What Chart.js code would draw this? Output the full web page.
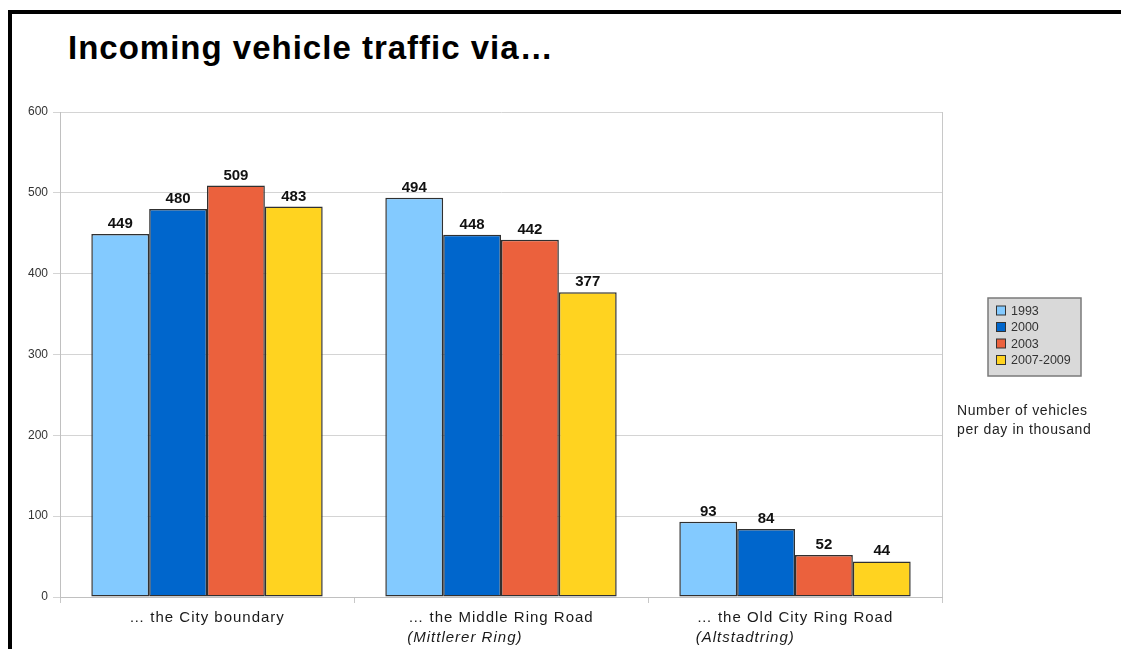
<!DOCTYPE html>
<html><head><meta charset="utf-8">
<script src="https://cdn.jsdelivr.net/npm/chart.js@4.4.1/dist/chart.umd.min.js"></script>
<style>
html,body{margin:0;padding:0;background:#fff;width:1121px;height:649px;overflow:hidden;}
#frame{position:absolute;left:8px;top:10px;width:1113px;height:639px;border-top:4px solid #000;border-left:4px solid #000;box-sizing:border-box;}
#title{position:absolute;left:68px;top:31px;font:bold 33px/33px "Liberation Sans",Arial,sans-serif;letter-spacing:1px;color:#000;white-space:nowrap;}
#wrap{position:absolute;left:0;top:0;width:1121px;height:649px;}
</style></head><body>
<div id="frame"></div>
<div id="title">Incoming vehicle traffic via…</div>
<div id="wrap"><canvas id="c" width="1121" height="649"></canvas></div>
<script>
const categoryLines = ['… the City boundary', '… the Middle Ring Road', '… the Old City Ring Road'];
const categorySubLines = ['', '(Mittlerer Ring)', '(Altstadtring)'];
const seriesNames = ['1993', '2000', '2003', '2007-2009'];
const values1993 = [449, 494, 93];
const values2000 = [480, 448, 84];
const values2003 = [509, 442, 52];
const values2007 = [483, 377, 44];
const yMin = 0, yMax = 600, yStep = 100;
const unitNote = ['Number of vehicles', 'per day in thousand'];
const seriesColors = ['#83CAFF', '#0066CC', '#EB613D', '#FFD320'];

const FONT = '"Liberation Sans", Arial, sans-serif';
const seriesValues = [values1993, values2000, values2003, values2007];

const valueLabels = {
  id: 'valueLabels',
  afterDatasetsDraw(chart) {
    const ctx = chart.ctx;
    ctx.save();
    ctx.font = 'bold 15px ' + FONT;
    ctx.fillStyle = '#111';
    ctx.textAlign = 'center';
    ctx.textBaseline = 'alphabetic';
    chart.data.datasets.forEach((ds, i) => {
      chart.getDatasetMeta(i).data.forEach((el, j) => {
        ctx.fillText(String(ds.data[j]), el.x, el.y - 6);
      });
    });
    ctx.restore();
  }
};

const extras = {
  id: 'extras',
  afterDraw(chart) {
    const ctx = chart.ctx;
    const ca = chart.chartArea;
    const xs = chart.scales.x;
    ctx.save();
    // right frame line
    ctx.strokeStyle = '#c8c8c8';
    ctx.lineWidth = 1;
    ctx.beginPath();
    ctx.moveTo(Math.round(ca.right) + 0.5, ca.top);
    ctx.lineTo(Math.round(ca.right) + 0.5, ca.bottom);
    ctx.stroke();
    // category labels
    ctx.fillStyle = '#1a1a1a';
    ctx.textBaseline = 'alphabetic';
    ctx.textAlign = 'left';
    ctx.letterSpacing = '1px';
    chart.data.labels.forEach((lbl, i) => {
      const cx = xs.getPixelForValue(i);
      ctx.font = '15px ' + FONT;
      const w = ctx.measureText(lbl[0]).width;
      const left = cx - w / 2;
      ctx.fillText(lbl[0], left, 622);
      if (lbl[1]) {
        ctx.font = 'italic 15px ' + FONT;
        ctx.fillText(lbl[1], left - 1, 642);
      }
    });
    ctx.letterSpacing = '0px';
    // legend
    const lx = 988, ly = 298, lw = 93, lh = 78;
    ctx.fillStyle = '#d9d9d9';
    ctx.fillRect(lx, ly, lw, lh);
    ctx.strokeStyle = '#7a7a7a';
    ctx.lineWidth = 1.5;
    ctx.strokeRect(lx, ly, lw, lh);
    ctx.font = '12.5px ' + FONT;
    ctx.textBaseline = 'middle';
    chart.data.datasets.forEach((ds, i) => {
      const cy = 310.5 + i * 16.5;
      ctx.fillStyle = ds.backgroundColor;
      ctx.fillRect(996, cy - 4.5, 9, 9);
      ctx.strokeStyle = '#333';
      ctx.lineWidth = 1;
      ctx.strokeRect(996.5, cy - 4.5, 9, 9);
      ctx.fillStyle = '#333';
      ctx.fillText(ds.label, 1011, cy + 1);
    });
    // unit note
    ctx.font = '14px ' + FONT;
    ctx.letterSpacing = '0.6px';
    ctx.fillStyle = '#222';
    ctx.textBaseline = 'alphabetic';
    ctx.fillText(unitNote[0], 957, 415);
    ctx.fillText(unitNote[1], 957, 434);
    ctx.restore();
  }
};

new Chart(document.getElementById('c'), {
  type: 'bar',
  data: {
    labels: categoryLines.map((l, i) => [l, categorySubLines[i]]),
    datasets: seriesNames.map((name, i) => ({
      label: name,
      data: seriesValues[i],
      backgroundColor: seriesColors[i],
      borderColor: '#303030',
      borderWidth: 1.5,
      borderSkipped: false,
      categoryPercentage: 0.787,
      barPercentage: 1.0
    }))
  },
  options: {
    responsive: false,
    animation: false,
    devicePixelRatio: 1,
    layout: { padding: { left: 0, right: 179, top: 112, bottom: 0 } },
    plugins: { legend: { display: false }, title: { display: false }, tooltip: { enabled: false } },
    scales: {
      x: {
        grid: { display: true, drawOnChartArea: false, drawTicks: true, tickLength: 6, color: '#c8c8c8', offset: true },
        border: { display: true, color: '#c0c0c0' },
        ticks: { display: false },
        afterFit(s) { s.height = 52; }
      },
      y: {
        min: yMin, max: yMax,
        grid: { color: '#d4d4d4', tickLength: 7 },
        border: { display: true, color: '#c0c0c0' },
        ticks: { stepSize: yStep, padding: 5, color: '#333', font: { family: FONT, size: 12 } },
        afterFit(s) { s.width = 60; }
      }
    }
  },
  plugins: [valueLabels, extras]
});
</script>
</body></html>
